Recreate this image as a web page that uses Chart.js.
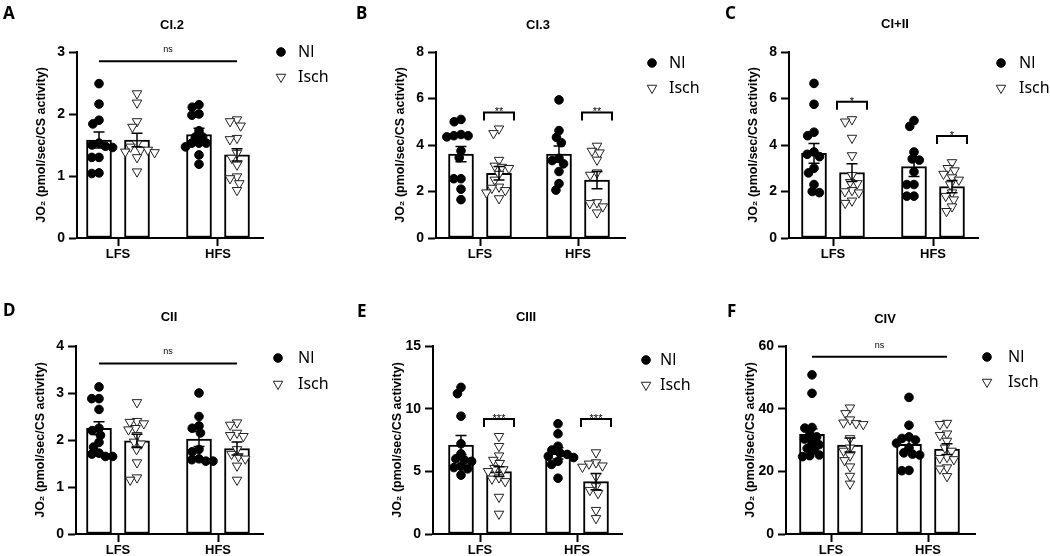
<!DOCTYPE html>
<html>
<head>
<meta charset="utf-8">
<script src="https://cdn.jsdelivr.net/npm/chart.js@4.4.1/dist/chart.umd.min.js"></script>
<style>
	html, body { margin: 0; padding: 0; background: #fff; }
	#wrap { position: relative; width: 1050px; height: 556px; overflow: hidden; }
	#wrap canvas { position: absolute; }
</style>
</head>
<body>
<div id="wrap"></div>
<script>
"use strict";

// Categories and series

var GROUPS = ["LFS", "HFS"],
	SERIES = ["Nl", "Isch"],
	Y_TITLE = "JO\u2082 (pmol/sec/CS activity)";

var PANEL_LETTERS = ["A", "B", "C", "D", "E", "F"],
	PANEL_TITLES = ["CI.2", "CI.3", "CI+II", "CII", "CIII", "CIV"],
	Y_MAX = [3, 8, 8, 4, 15, 60],
	Y_STEP = [1, 2, 2, 1, 5, 20];

// Individual values, [LFS, HFS]

var CI2_NL = [[2.49, 2.16, 1.90, 1.84, 1.53, 1.50, 1.48, 1.46, 1.30, 1.30, 1.05, 1.04],
		[2.15, 2.11, 2.00, 1.98, 1.73, 1.63, 1.63, 1.53, 1.53, 1.53, 1.47, 1.34, 1.19]],
	CI2_ISCH = [[2.33, 2.18, 1.88, 1.79, 1.52, 1.47, 1.42, 1.42, 1.39, 1.38, 1.30, 1.07],
		[1.91, 1.88, 1.81, 1.61, 1.59, 1.37, 1.29, 1.18, 0.99, 0.96, 0.88, 0.77]];

var CI3_NL = [[5.10, 5.00, 4.45, 4.40, 4.35, 4.40, 3.75, 3.45, 2.55, 2.55, 2.10, 1.65],
		[5.94, 4.62, 4.33, 4.10, 3.43, 3.33, 3.19, 2.86, 2.34, 2.06]],
	CI3_ISCH = [[4.70, 4.50, 3.35, 3.10, 3.05, 3.00, 2.75, 2.50, 2.20, 2.15, 2.05, 1.95, 1.70],
		[3.96, 3.74, 3.67, 3.36, 2.81, 2.71, 1.53, 1.49, 1.35, 1.09]];

var CI_II_NL = [[6.65, 5.75, 4.55, 4.40, 3.70, 3.60, 3.50, 3.00, 2.80, 2.30, 2.00, 1.95],
		[5.05, 4.80, 3.70, 3.40, 3.35, 2.85, 2.30, 2.30, 1.80, 1.80]],
	CI_II_ISCH = [[5.10, 5.00, 4.30, 3.55, 2.70, 2.40, 2.35, 2.05, 2.00, 1.95, 1.60, 1.50],
		[3.25, 3.00, 2.90, 2.75, 2.60, 2.50, 2.30, 1.95, 1.80, 1.65, 1.35, 1.15]];

var CII_NL = [[3.13, 2.88, 2.88, 2.65, 2.25, 2.20, 2.10, 1.95, 1.85, 1.72, 1.70, 1.65, 1.65],
		[3.00, 2.50, 2.30, 2.25, 2.15, 1.80, 1.75, 1.60, 1.58, 1.55, 1.55]],
	CII_ISCH = [[2.80, 2.40, 2.38, 2.35, 2.25, 2.22, 2.10, 1.96, 1.92, 1.80, 1.52, 1.20, 1.15],
		[2.37, 2.32, 2.15, 2.10, 2.08, 1.80, 1.70, 1.65, 1.60, 1.45, 1.15]];

var CIII_NL = [[11.7, 11.2, 9.4, 7.2, 6.4, 6.0, 5.9, 5.8, 5.4, 5.3, 5.2, 4.7],
		[8.8, 8.0, 7.0, 6.7, 6.45, 6.35, 6.2, 6.1, 5.8, 5.55, 4.45]],
	CIII_ISCH = [[7.8, 7.0, 6.25, 5.9, 5.65, 5.25, 5.15, 5.0, 4.5, 4.4, 4.2, 2.95, 1.6],
		[6.5, 5.7, 5.6, 5.45, 5.35, 4.6, 3.8, 3.5, 3.25, 1.9, 1.25]];

var CIV_NL = [[50.8, 44.9, 34.0, 33.8, 31.8, 31.0, 30.3, 29.0, 28.5, 27.3, 26.8, 25.2, 25.0, 24.7],
		[43.6, 34.7, 31.0, 30.5, 30.0, 29.0, 27.5, 25.9, 25.5, 25.2, 20.3, 20.2]],
	CIV_ISCH = [[40.3, 38.5, 36.5, 35.5, 35.3, 35.0, 30.5, 27.5, 26.5, 25.0, 23.5, 21.5, 18.5, 16.0],
		[35.4, 35.0, 32.0, 31.5, 29.7, 27.5, 26.5, 24.5, 24.2, 23.8, 21.2, 20.8, 18.4]];

// Bar heights and SEM, [[Nl LFS, Nl HFS], [Isch LFS, Isch HFS]]

var CI2_MEAN = [[1.58, 1.67], [1.58, 1.34]],	CI2_SEM = [[0.13, 0.10], [0.11, 0.10]],
	CI3_MEAN = [[3.61, 3.61], [2.78, 2.49]],	CI3_SEM = [[0.33, 0.35], [0.29, 0.37]],
	CI_II_MEAN = [[3.64, 3.07], [2.81, 2.21]],	CI_II_SEM = [[0.42, 0.42], [0.38, 0.26]],
	CII_MEAN = [[2.25, 2.02], [1.98, 1.82]],	CII_SEM = [[0.14, 0.16], [0.14, 0.14]],
	CIII_MEAN = [[7.10, 6.44], [4.98, 4.18]],	CIII_SEM = [[0.75, 0.45], [0.39, 0.65]],
	CIV_MEAN = [[31.8, 28.6], [28.4, 27.1]],	CIV_SEM = [[1.8, 2.1], [2.2, 1.7]];

// Significance labels: one label = line over all bars, two = bracket per group

var CI2_SIG = ["ns"],
	CI3_SIG = ["**", "**"],
	CI_II_SIG = ["*", "*"],
	CII_SIG = ["ns"],
	CIII_SIG = ["***", "***"],
	CIV_SIG = ["ns"];

// Layout of each panel in page pixels (sigY in data units)

var LAYOUT = [
	{ox: 0, oy: 0, left: 77, right: 263, top: 52, bottom: 238, lfs: 118, hfs: 218,
		sigY: [2.85], letter: [3, 19], title: [172, 29], legend: [281, 52, 77, 298]},
	{ox: 350, oy: 0, left: 436, right: 625, top: 52, bottom: 238, lfs: 480, hfs: 578,
		sigY: [5.4, 5.4], letter: [356, 19], title: [538, 29], legend: [652, 63, 88, 669]},
	{ox: 700, oy: 0, left: 789, right: 978, top: 52, bottom: 238, lfs: 833, hfs: 933,
		sigY: [5.86, 4.39], letter: [725, 19], title: [895, 28], legend: [1001, 63, 88, 1019]},
	{ox: 0, oy: 278, left: 76, right: 263, top: 346, bottom: 534, lfs: 118, hfs: 218,
		sigY: [3.63], letter: [3, 316], title: [169, 321], legend: [278, 358, 384, 298]},
	{ox: 350, oy: 278, left: 433, right: 622, top: 346, bottom: 534, lfs: 480, hfs: 577,
		sigY: [9.18, 9.18], letter: [357, 317], title: [526, 321], legend: [646, 360, 385, 660]},
	{ox: 700, oy: 278, left: 786, right: 975, top: 346, bottom: 534, lfs: 831, hfs: 928,
		sigY: [56.6], letter: [727, 317], title: [885, 323], legend: [987, 357, 382, 1008]}
];

var PANEL_W = 350,
	PANEL_H = 278,
	X_AXIS_H = 22,
	BAR_GAP = 19,		// px from group centre to bar centre
	BAR_W = 25,
	DOT_D = 7.2,		// swarm spacing, px
	FONT = "'Liberation Sans', Arial, sans-serif",
	LEGEND_FONT = "'Noto Sans', 'Open Sans', sans-serif";

var NL_STYLE = {pointStyle: "circle", rotation: 0, radius: 4.3, borderWidth: 1, fill: "#000", stroke: "#000"},
	ISCH_STYLE = {pointStyle: "triangle", rotation: 180, radius: 5.5, borderWidth: 1, fill: "#fff", stroke: "#222"};

var PANELS = [
	{nl: CI2_NL, isch: CI2_ISCH, mean: CI2_MEAN, sem: CI2_SEM, sig: CI2_SIG},
	{nl: CI3_NL, isch: CI3_ISCH, mean: CI3_MEAN, sem: CI3_SEM, sig: CI3_SIG},
	{nl: CI_II_NL, isch: CI_II_ISCH, mean: CI_II_MEAN, sem: CI_II_SEM, sig: CI_II_SIG},
	{nl: CII_NL, isch: CII_ISCH, mean: CII_MEAN, sem: CII_SEM, sig: CII_SIG},
	{nl: CIII_NL, isch: CIII_ISCH, mean: CIII_MEAN, sem: CIII_SEM, sig: CIII_SIG},
	{nl: CIV_NL, isch: CIV_ISCH, mean: CIV_MEAN, sem: CIV_SEM, sig: CIV_SIG}
];

// Beeswarm: horizontal offsets in px so that markers do not overlap
function swarm(values, pxPerUnit, d) {
	var placed = [], out = [], order = values.map(function (v, i) { return i; });

	order.sort(function (a, b) { return values[b] - values[a]; });
	order.forEach(function (i) {
		var y = values[i] * pxPerUnit, cands = [0], x;

		placed.forEach(function (p) {
			var dy = Math.abs(p.y - y);
			if (dy < d) {
				var dx = Math.sqrt(d * d - dy * dy);
				cands.push(p.x + dx, p.x - dx);
			}
		});
		cands.sort(function (a, b) { return Math.abs(a) - Math.abs(b) || a - b; });
		x = cands.find(function (c) {
			return placed.every(function (p) {
				return Math.hypot(p.x - c, p.y - y) >= d - 0.01;
			});
		});
		placed.push({x: x, y: y});
		out[i] = x;
	});
	return out;
}

function pointsFor(groups, seriesOffset, pxY, u) {
	var pts = [];

	groups.forEach(function (vals, g) {
		var dx = swarm(vals, pxY, DOT_D);
		vals.forEach(function (v, i) {
			pts.push({x: g + 1 + seriesOffset + dx[i] / u, y: v});
		});
	});
	return pts;
}

// Error bars, significance marks, letters, titles and legend
function marksPlugin(idx, off) {
	var L = LAYOUT[idx], P = PANELS[idx];

	return {
		id: "marks" + idx,
		afterDatasetsDraw: function (chart) {
			var ctx = chart.ctx, xs = chart.scales.x, ys = chart.scales.y;

			ctx.save();
			ctx.strokeStyle = "#000";
			ctx.fillStyle = "#000";
			// error bars
			ctx.lineWidth = 1.5;
			[0, 1].forEach(function (s) {
				[0, 1].forEach(function (g) {
					var x = xs.getPixelForValue(g + 1 + (s ? off : -off)),
						m = P.mean[s][g], e = P.sem[s][g],
						yTop = ys.getPixelForValue(m + e), yBot = ys.getPixelForValue(m - e);
					ctx.beginPath();
					ctx.moveTo(x, yTop); ctx.lineTo(x, yBot);
					ctx.moveTo(x - 5.5, yTop); ctx.lineTo(x + 5.5, yTop);
					ctx.moveTo(x - 5.5, yBot); ctx.lineTo(x + 5.5, yBot);
					ctx.stroke();
				});
			});
			// significance
			ctx.lineWidth = 2;
			ctx.textAlign = "center";
			ctx.textBaseline = "alphabetic";
			if (P.sig.length === 1) {
				var x1 = xs.getPixelForValue(1 - off), x2 = xs.getPixelForValue(2 + off),
					y = ys.getPixelForValue(L.sigY[0]);
				ctx.beginPath();
				ctx.moveTo(x1, y); ctx.lineTo(x2, y);
				ctx.stroke();
				ctx.font = "9px " + FONT;
				ctx.fillText(P.sig[0], (x1 + x2) / 2, y - 9);
			}
			else {
				P.sig.forEach(function (label, g) {
					var xc = xs.getPixelForValue(g + 1 + off), yb = ys.getPixelForValue(L.sigY[g]);
					ctx.beginPath();
					ctx.moveTo(xc - 15, yb + 8); ctx.lineTo(xc - 15, yb);
					ctx.lineTo(xc + 15, yb); ctx.lineTo(xc + 15, yb + 8);
					ctx.stroke();
					ctx.font = "11px " + FONT;
					ctx.fillText(label, xc, yb + 3);
				});
			}
			ctx.restore();
		},
		afterDraw: function (chart) {
			var ctx = chart.ctx, lg = L.legend;

			ctx.save();
			ctx.fillStyle = "#000";
			ctx.textBaseline = "alphabetic";
			ctx.textAlign = "left";
			ctx.font = "bold 17px " + LEGEND_FONT;
			ctx.fillText(PANEL_LETTERS[idx], L.letter[0] - L.ox, L.letter[1] - L.oy);
			ctx.textAlign = "center";
			ctx.font = "bold 13px " + FONT;
			ctx.fillText(PANEL_TITLES[idx], L.title[0] - L.ox, L.title[1] - L.oy);

			// legend
			[NL_STYLE, ISCH_STYLE].forEach(function (st, s) {
				var y = lg[1 + s] - L.oy;
				ctx.fillStyle = st.fill;
				ctx.strokeStyle = st.stroke;
				ctx.lineWidth = st.borderWidth;
				Chart.helpers.drawPoint(ctx, st, lg[0] - L.ox, y);
				ctx.fillStyle = "#000";
				ctx.textAlign = "left";
				ctx.textBaseline = "middle";
				ctx.font = "16px " + LEGEND_FONT;
				ctx.fillText(SERIES[s], lg[3] - L.ox, y);
			});
			ctx.restore();
		}
	};
}

function makePanel(idx) {
	var L = LAYOUT[idx], P = PANELS[idx],
		wrap = document.getElementById("wrap"),
		canvas = document.createElement("canvas"),
		u = L.hfs - L.lfs,
		pxY = (L.bottom - L.top) / Y_MAX[idx],
		off = BAR_GAP / u,
		axisW = L.left - L.ox,
		titleFont = 12.5;

	canvas.width = PANEL_W;
	canvas.height = PANEL_H;
	canvas.style.left = L.ox + "px";
	canvas.style.top = L.oy + "px";
	wrap.appendChild(canvas);

	var barStyle = {
		type: "bar", grouped: false, barThickness: BAR_W, borderWidth: 2,
		borderColor: "#000", backgroundColor: "#fff", borderSkipped: false, order: 1
	};

	var tickGrid = {
		drawOnChartArea: false, drawTicks: true, tickLength: 8, tickWidth: 2,
		tickColor: "#000", offset: false
	};

	new Chart(canvas, {
		type: "scatter",
		data: {
			datasets: [
				{label: SERIES[0], data: pointsFor(P.nl, -off, pxY, u), order: 0,
					pointStyle: NL_STYLE.pointStyle, pointRadius: NL_STYLE.radius,
					backgroundColor: NL_STYLE.fill, borderColor: NL_STYLE.stroke, borderWidth: 1},
				{label: SERIES[1], data: pointsFor(P.isch, off, pxY, u), order: 0,
					pointStyle: ISCH_STYLE.pointStyle, rotation: ISCH_STYLE.rotation,
					pointRadius: ISCH_STYLE.radius, backgroundColor: ISCH_STYLE.fill,
					borderColor: ISCH_STYLE.stroke, borderWidth: 1},
				Object.assign({label: SERIES[0] + " mean",
					data: GROUPS.map(function (g, i) { return {x: i + 1 - off, y: P.mean[0][i]}; })}, barStyle),
				Object.assign({label: SERIES[1] + " mean",
					data: GROUPS.map(function (g, i) { return {x: i + 1 + off, y: P.mean[1][i]}; })}, barStyle)
			]
		},
		options: {
			responsive: false,
			animation: false,
			devicePixelRatio: 1,
			layout: {
				padding: {
					left: 0,
					right: L.ox + PANEL_W - L.right,
					top: L.top - L.oy,
					bottom: L.oy + PANEL_H - L.bottom - X_AXIS_H
				}
			},
			plugins: {legend: {display: false}, tooltip: {enabled: false}},
			scales: {
				x: {
					type: "linear",
					min: 1 - (L.lfs - L.left) / u,
					max: 2 + (L.right - L.hfs) / u,
					offset: false,
					afterBuildTicks: function (axis) {
						axis.ticks = GROUPS.map(function (g, i) { return {value: i + 1}; });
					},
					afterFit: function (axis) { axis.height = X_AXIS_H; },
					ticks: {
						autoSkip: false, maxRotation: 0, padding: 1, color: "#000",
						font: {family: FONT, size: 13, weight: "bold"},
						callback: function (v, i) { return GROUPS[i]; }
					},
					grid: tickGrid,
					border: {color: "#000", width: 2}
				},
				y: {
					min: 0,
					max: Y_MAX[idx],
					afterFit: function (axis) { axis.width = axisW; },
					ticks: {
						stepSize: Y_STEP[idx], padding: 4, color: "#000",
						font: {family: FONT, size: 14, weight: "bold"}
					},
					grid: tickGrid,
					border: {color: "#000", width: 2},
					title: {
						display: true,
						text: Y_TITLE,
						color: "#000",
						font: {family: FONT, size: titleFont, weight: "bold"},
						padding: {top: axisW - 35 - titleFont * 0.6, bottom: 0}
					}
				}
			}
		},
		plugins: [marksPlugin(idx, off)]
	});
}

PANELS.forEach(function (p, i) { makePanel(i); });
</script>
</body>
</html>
